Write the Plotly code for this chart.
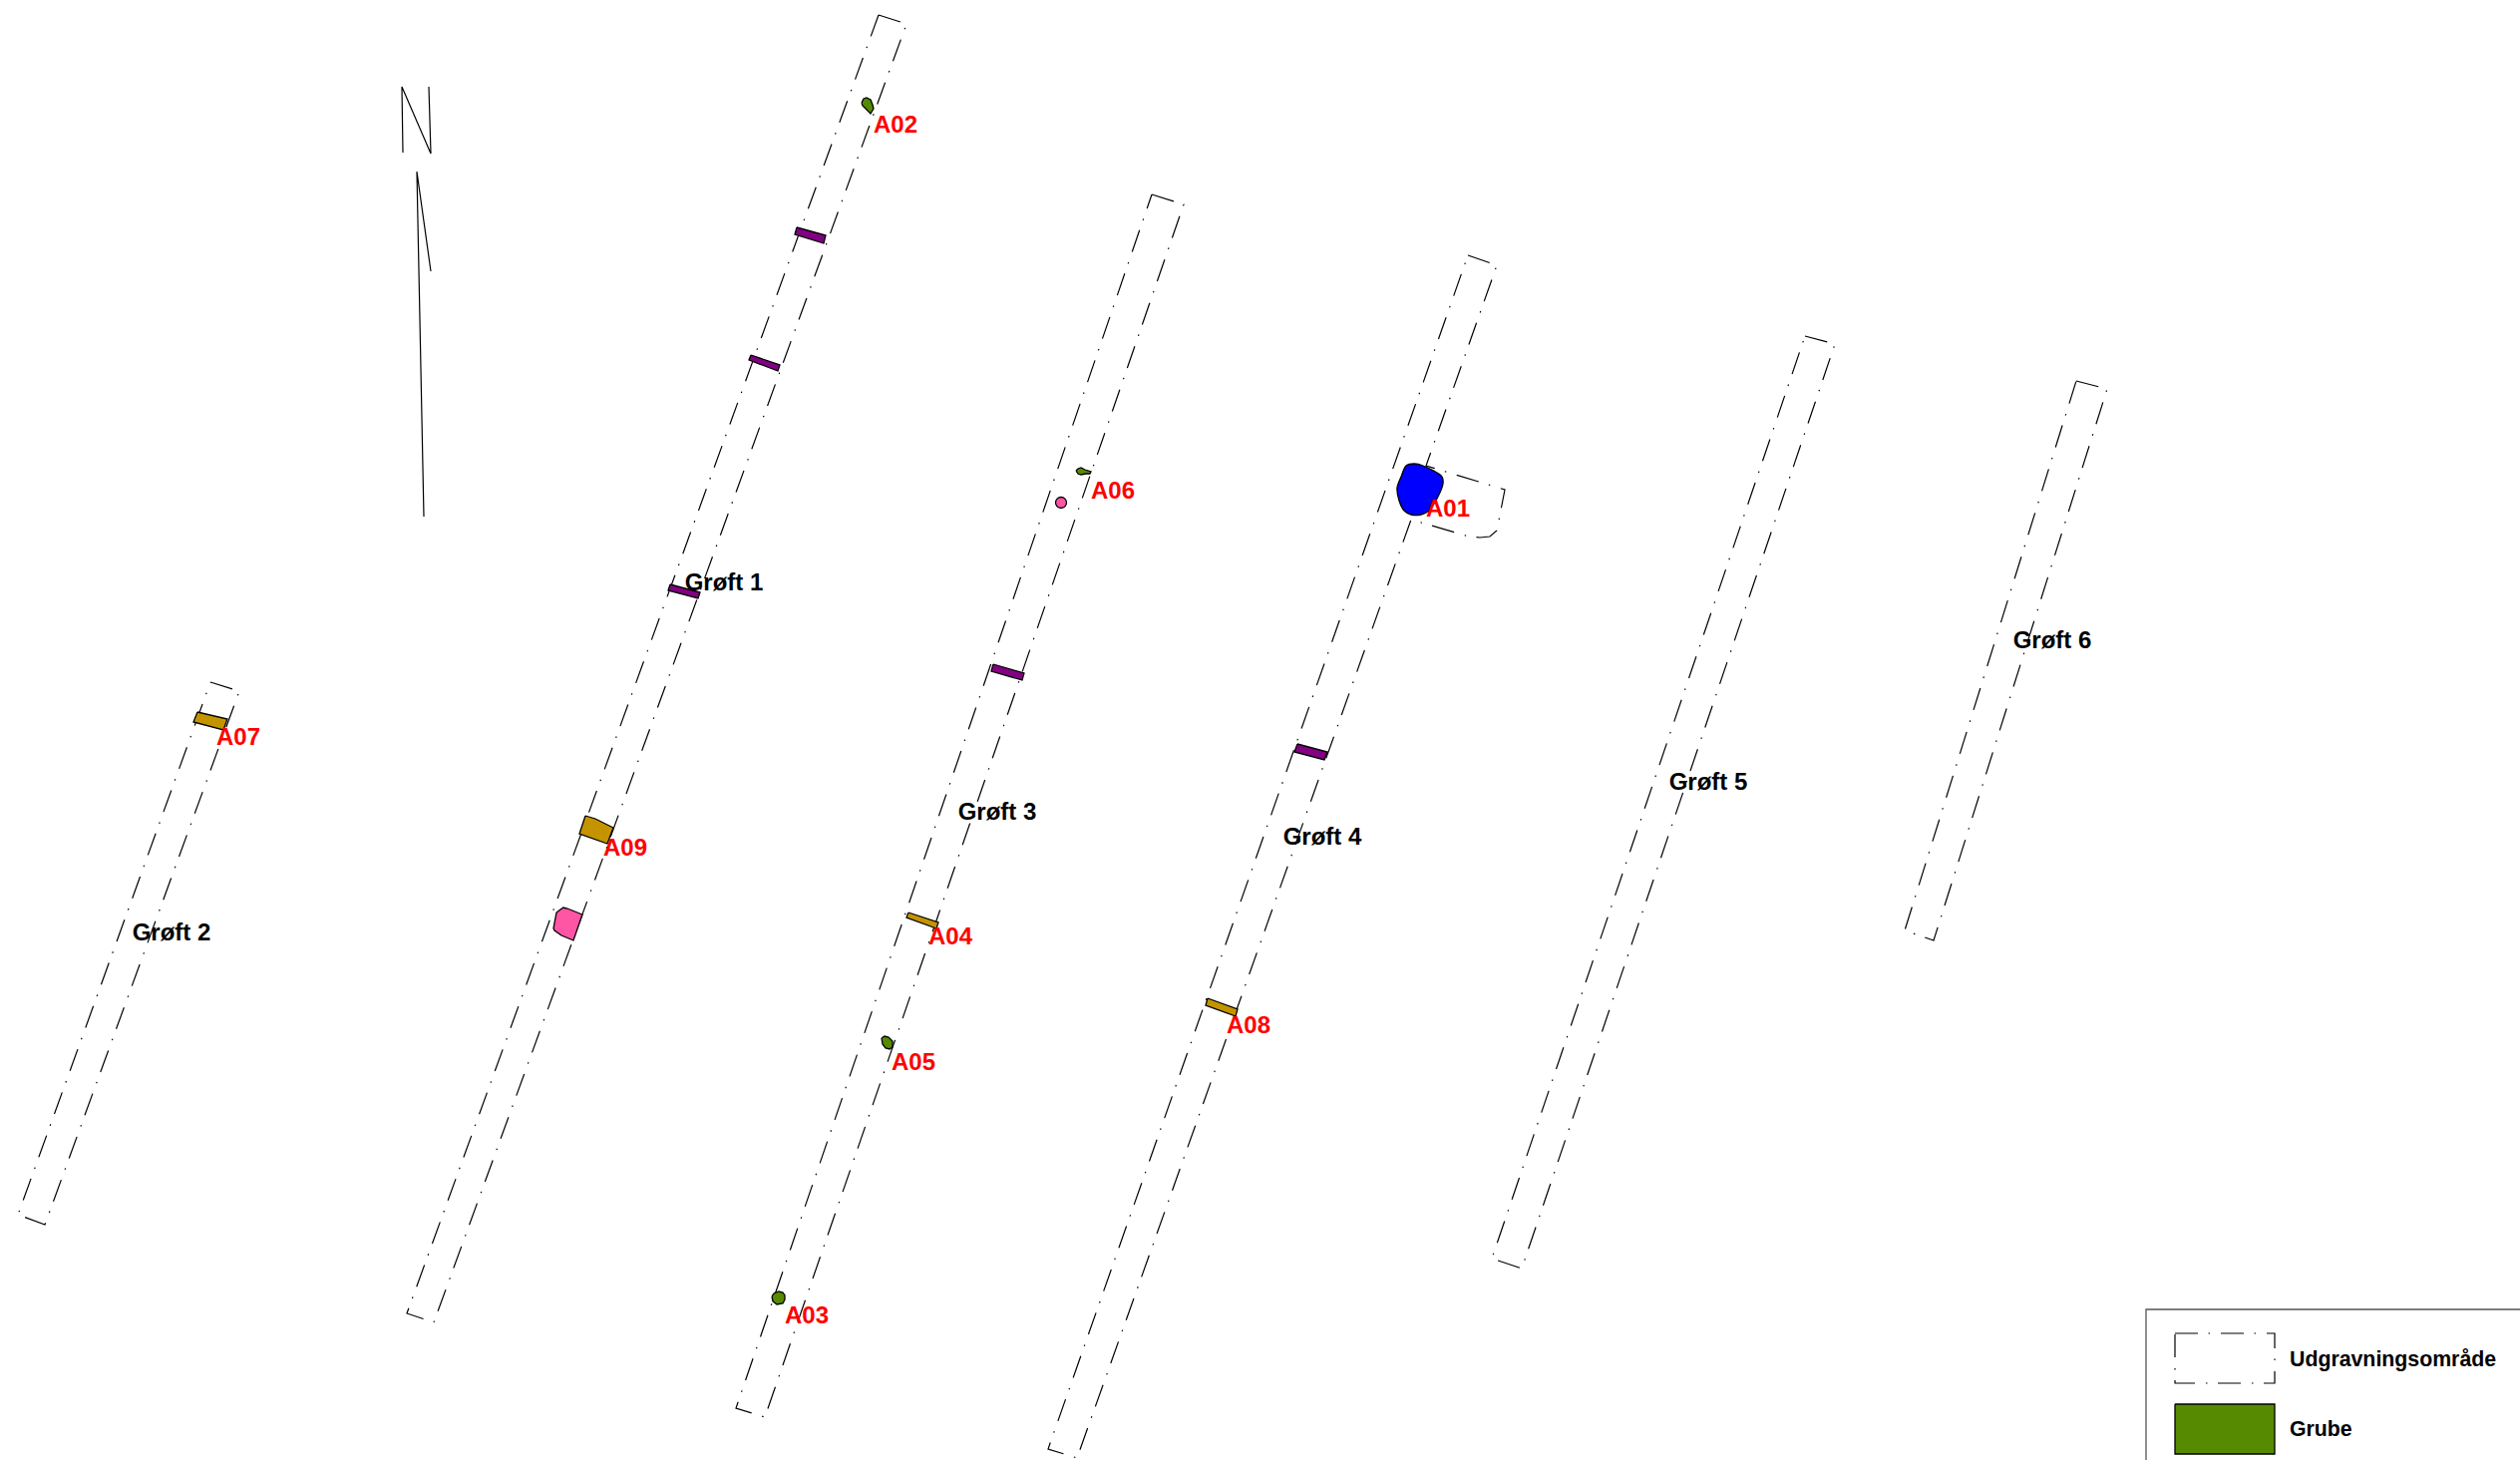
import plotly.graph_objects as go

# Map data, in picture coordinates
trenches = {
    "Grøft 1": ([881, 909, 435, 408], [15, 24, 1326, 1317]),
    "Grøft 2": ([211, 240, 45, 18], [684, 693, 1228, 1218]),
    "Grøft 3": ([1155, 1187, 767, 738], [195, 205, 1421, 1412]),
    "Grøft 4": ([1472, 1501, 1430, 1509, 1501, 1494, 1484, 1473, 1415, 1080, 1051],
                [256, 266, 467, 491, 532, 538, 539, 538, 521, 1462, 1453]),
    "Grøft 5": ([1810, 1840, 1526, 1496], [337, 345, 1272, 1262]),
    "Grøft 6": ([2082, 2113, 1939, 1910], [382, 390, 943, 933]),
}

purple_bars = [
    ([799, 828, 826, 797], [228, 236, 244, 235]),
    ([753, 782, 780, 751], [356, 366, 372, 361]),
    ([672, 702, 700, 670], [586, 594, 600, 592]),
    ([996, 1027, 1025, 994], [666, 675, 682, 673]),
    ([1301, 1331, 1328, 1298], [746, 754, 762, 754]),
]
gold_bars = [
    ([198, 228, 224, 194], [714, 721, 732, 724]),
    ([587, 597, 615, 609, 581], [818, 821, 830, 846, 836]),
    ([911, 941, 939, 909], [915, 925, 931, 920]),
    ([1211, 1241, 1239, 1209], [1001, 1012, 1019, 1008]),
]
blue_x = [1410, 1418, 1427, 1446, 1447, 1442, 1433, 1425, 1415, 1408, 1403, 1401, 1405]
blue_y = [467, 465, 467, 478, 485, 498, 512, 516, 516, 512, 502, 489, 478]
pink_x = [562, 565, 569, 584, 575, 563, 556, 555, 558]
pink_y = [912, 910, 911, 917, 943, 938, 933, 931, 915]
green_shapes = [
    ([864, 866, 869, 873, 875, 876, 873, 868, 865], [103, 99, 98, 100, 105, 109, 114, 109, 106]),
    ([1079, 1081, 1084, 1088, 1094, 1093, 1089, 1084, 1081], [472, 470, 469, 471, 473, 475, 475, 476, 475]),
    ([774, 776, 781, 785, 787, 787, 785, 779, 775], [1300, 1297, 1295, 1296, 1299, 1303, 1307, 1308, 1305]),
    ([884, 887, 891, 895, 895, 892, 888, 885], [1041, 1039, 1040, 1044, 1050, 1052, 1051, 1047]),
]
pink_dot_x = [1064]
pink_dot_y = [504]

feature_labels = ["A01", "A02", "A03", "A04", "A05", "A06", "A07", "A08", "A09"]
feature_label_x = [1452, 898, 809, 953, 916, 1116, 239, 1252, 627]
feature_label_y = [512, 127, 1321, 941, 1067, 494, 741, 1030, 852]

trench_labels = ["Grøft 1", "Grøft 2", "Grøft 3", "Grøft 4", "Grøft 5", "Grøft 6"]
trench_label_x = [726, 172, 1000, 1326, 1713, 2058]
trench_label_y = [586, 937, 816, 841, 786, 644]

north_n_x = [404, 403, 432, 430]
north_n_y = [153, 87, 154, 87]
north_arrow_x = [425, 418, 432]
north_arrow_y = [518, 172, 272]

legend_frame_x = [2152, 2152, 2527]
legend_frame_y = [1464, 1313, 1313]
legend_dash_x = [2181, 2281, 2281, 2181]
legend_dash_y = [1337, 1337, 1387, 1387]
legend_green_x = [2181, 2281, 2281, 2181]
legend_green_y = [1408, 1408, 1458, 1458]
legend_labels = ["Udgravningsområde", "Grube"]
legend_label_x = [2296, 2296]
legend_label_y = [1365, 1435]

DASH = "23px,10.5px,1.5px,11px"
GREEN, GOLD, PURPLE, PINK, BLUE = "#568a00", "#c49400", "#820082", "#ff55a5", "#0000ff"
FONT = "Liberation Sans"

fig = go.Figure()

def close(v):
    return list(v) + [v[0]]

def outline(x, y):
    fig.add_trace(go.Scatter(x=close(x), y=close(y), mode="lines",
                             line=dict(color="#000000", width=1.2, dash=DASH)))

def poly(x, y, color, smooth=False):
    line = dict(color="#000000", width=1.3)
    if smooth:
        line.update(shape="spline", smoothing=0.8)
    fig.add_trace(go.Scatter(x=close(x), y=close(y), mode="lines", fill="toself",
                             fillcolor=color, line=line))

def labels(x, y, text, color, pos="middle center", size=24):
    fig.add_trace(go.Scatter(x=x, y=y, mode="text", text=text, textposition=pos,
                             textfont=dict(family=FONT, size=size, color=color, weight="bold")))

for tx, ty in trenches.values():
    outline(tx, ty)
for bx, by in purple_bars:
    poly(bx, by, PURPLE)
for bx, by in gold_bars:
    poly(bx, by, GOLD)
poly(blue_x, blue_y, BLUE, smooth=True)
poly(pink_x, pink_y, PINK)
for gx, gy in green_shapes:
    poly(gx, gy, GREEN)
fig.add_trace(go.Scatter(x=pink_dot_x, y=pink_dot_y, mode="markers",
                         marker=dict(size=11, color=PINK, line=dict(color="#000000", width=1.3))))

fig.add_trace(go.Scatter(x=north_n_x, y=north_n_y, mode="lines", line=dict(color="#000000", width=1.2)))
fig.add_trace(go.Scatter(x=north_arrow_x, y=north_arrow_y, mode="lines", line=dict(color="#000000", width=1.2)))

fig.add_trace(go.Scatter(x=legend_frame_x, y=legend_frame_y, mode="lines", line=dict(color="#555555", width=1.3)))
outline(legend_dash_x, legend_dash_y)
poly(legend_green_x, legend_green_y, GREEN)

labels(trench_label_x, trench_label_y, trench_labels, "#000000")
labels(feature_label_x, feature_label_y, feature_labels, "#ff0000")
labels(legend_label_x, legend_label_y, legend_labels, "#000000", pos="middle right", size=21.3)

fig.update_layout(
    width=2527, height=1464, autosize=False,
    margin=dict(l=0, r=0, t=0, b=0),
    paper_bgcolor="white", plot_bgcolor="white",
    showlegend=False, hovermode=False,
    xaxis=dict(range=[0, 2527], visible=False, fixedrange=True),
    yaxis=dict(range=[1464, 0], visible=False, fixedrange=True),
)
fig.write_html("out.html", config=dict(displayModeBar=False),
               post_script="document.body.style.margin='0';document.body.style.overflow='hidden';")
